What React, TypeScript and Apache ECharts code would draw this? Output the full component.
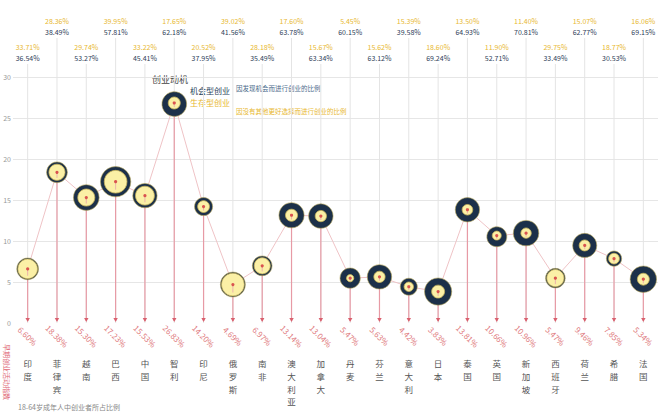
import React, { useEffect, useRef } from "react";
import * as echarts from "echarts";

const countries = ["印度","菲律宾","越南","巴西","中国","智利","印尼","俄罗斯","南非","澳大利亚","加拿大","丹麦","芬兰","意大利","日本","泰国","英国","新加坡","西班牙","荷兰","希腊","法国"];
const teaValues = [6.60,18.38,15.30,17.23,15.53,26.83,14.20,4.69,6.97,13.14,13.04,5.47,5.63,4.42,3.83,13.81,10.66,10.96,5.47,9.46,7.85,5.34];
const opportunity = [36.54,38.49,53.27,57.81,45.41,62.18,37.95,41.56,35.49,63.78,63.34,60.15,63.12,39.58,69.24,64.93,52.71,70.81,33.49,62.77,30.53,69.15];
const necessity = [33.71,28.36,29.74,39.95,33.22,17.65,20.52,39.02,28.18,17.60,15.67,5.45,15.62,15.39,18.60,13.50,11.90,11.40,29.75,15.07,18.77,16.06];
const yTicks = [0, 5, 10, 15, 20, 25, 30];

const FONT = "'Noto Sans CJK SC', 'Noto Sans', sans-serif";

export default function App() {
  const ref = useRef<HTMLDivElement>(null);
  useEffect(() => {
    document.body.style.margin = "0";
    const chart = echarts.init(ref.current!, null, { renderer: "svg" });
    const items = countries.map((_, i) => [i, teaValues[i], opportunity[i], necessity[i]]);

    const option: any = {
      animation: false,
      backgroundColor: "#ffffff",
      textStyle: { fontFamily: FONT },
      grid: { left: 13, right: 0, top: 77, bottom: 91, containLabel: false },
      xAxis: {
        type: "category",
        data: countries,
        boundaryGap: true,
        axisLine: { show: false },
        axisTick: { show: false },
        splitLine: { show: false },
        axisLabel: {
          interval: 0,
          margin: 34,
          fontSize: 8.5,
          lineHeight: 12.6,
          color: "#555",
          fontFamily: FONT,
          formatter: (v: string) => v.split("").join("\n"),
        },
      },
      yAxis: {
        type: "value",
        min: yTicks[0],
        max: yTicks[yTicks.length - 1],
        interval: 5,
        axisLine: { show: false },
        axisTick: { show: false },
        axisLabel: { fontSize: 7, color: "#999", margin: 2, fontFamily: FONT },
        splitLine: { show: true, showMinLine: false, lineStyle: { color: "#e6e6e6", width: 1 } },
      },
      graphic: [
        { type: "text", left: 152, top: 75, style: { text: "创业动机", fontSize: 9, fill: "#444", fontFamily: FONT } },
        { type: "text", left: 190, top: 86, style: { text: "机会型创业", fontSize: 8, fill: "#2a3f5a", fontFamily: FONT } },
        { type: "text", left: 190, top: 98, style: { text: "生存型创业", fontSize: 8, fill: "#e8b830", fontFamily: FONT } },
        { type: "text", left: 236, top: 85, style: { text: "因发现机会而进行创业的比例", fontSize: 6.5, fill: "#4a6a8a", fontFamily: FONT } },
        { type: "text", left: 236, top: 108, style: { text: "因没有其他更好选择而进行创业的比例", fontSize: 6.5, fill: "#e8b830", fontFamily: FONT } },
        { type: "text", x: 7, y: 372, rotation: -Math.PI / 2, style: { text: "早期创业活动指数", fontSize: 7, fill: "#e06a78", align: "center", verticalAlign: "middle", fontFamily: FONT } },
        { type: "text", left: 18, top: 403, style: { text: "18-64岁成年人中创业者所占比例", fontSize: 7, fill: "#888", fontFamily: FONT } },
      ],
      series: [
        {
          type: "custom",
          z: 1,
          clip: false,
          data: items,
          renderItem: (params: any, api: any) => {
            const i = api.value(0);
            const p = api.coord([i, api.value(1)]);
            const y0 = api.coord([i, 0])[1];
            const x = p[0];
            const top = i % 2 === 1 ? 38 : 64;
            return {
              type: "group",
              children: [
                { type: "line", shape: { x1: x, y1: top, x2: x, y2: y0 }, style: { stroke: "#e4e4e4", lineWidth: 1 } },
                { type: "text", x, y: top - 17, style: { text: api.value(3).toFixed(2) + "%", fontSize: 7, fill: "#e8b830", align: "center", verticalAlign: "middle", fontFamily: FONT } },
                { type: "text", x, y: top - 6, style: { text: api.value(2).toFixed(2) + "%", fontSize: 7, fill: "#2e4058", align: "center", verticalAlign: "middle", fontFamily: FONT } },
              ],
            };
          },
        },
        {
          type: "line",
          z: 2,
          data: teaValues,
          symbol: "none",
          lineStyle: { color: "#efc3c6", width: 1 },
        },
        {
          type: "custom",
          z: 3,
          clip: false,
          data: items,
          renderItem: (params: any, api: any) => {
            const i = api.value(0);
            const v = api.value(1);
            const opp = api.value(2);
            const nec = api.value(3);
            const p = api.coord([i, v]);
            const y0 = api.coord([i, 0])[1];
            const x = p[0];
            const y = p[1];
            const ro = 0.155 * (opp + nec);
            const ri = ro * Math.min(0.93, 0.3 + 0.65 * nec / opp);
            return {
              type: "group",
              children: [
                { type: "line", shape: { x1: x, y1: y, x2: x, y2: y0 - 2 }, style: { stroke: "#e79aa5", lineWidth: 1.2 } },
                { type: "polygon", shape: { points: [[x - 2.2, y0 - 5], [x + 2.2, y0 - 5], [x, y0 - 1]] }, style: { fill: "#d9606e" } },
                { type: "circle", shape: { cx: x, cy: y, r: ro }, style: { fill: "#1c3049", stroke: "#b9a75a", lineWidth: 0.6 } },
                { type: "circle", shape: { cx: x, cy: y, r: ri }, style: { fill: "#fbf0a6", stroke: "#c8b45c", lineWidth: 0.8 } },
                { type: "line", shape: { x1: x, y1: y, x2: x, y2: y + ri * 0.7 }, style: { stroke: "#e9a3ad", lineWidth: 0.8 } },
                { type: "circle", shape: { cx: x, cy: y, r: 1.6 }, style: { fill: "#d9534f" } },
                { type: "text", x, y: y0 + 13, rotation: -Math.PI / 4, style: { text: v.toFixed(2) + "%", fontSize: 8, fill: "#e07a7e", align: "center", verticalAlign: "middle", fontFamily: FONT } },
              ],
            };
          },
        },
      ],
    };
    chart.setOption(option);
    return () => chart.dispose();
  }, []);
  return <div ref={ref} style={{ width: 658, height: 414 }} />;
}
